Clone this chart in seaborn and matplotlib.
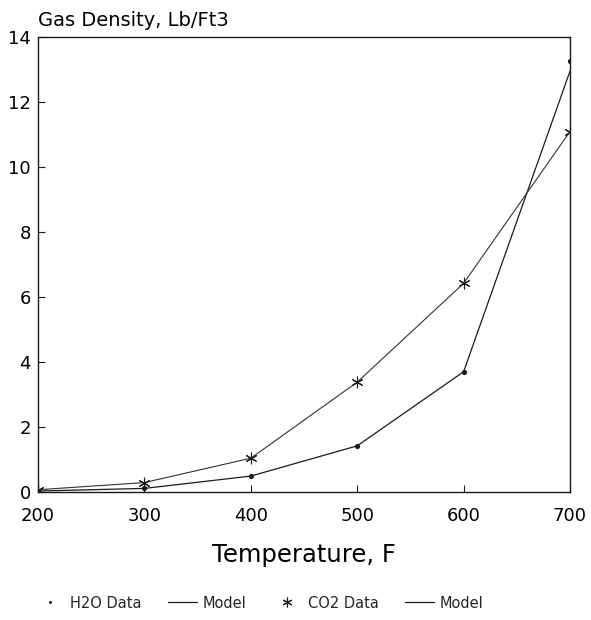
import matplotlib
matplotlib.use("Agg")
import matplotlib.pyplot as plt
from matplotlib.lines import Line2D
import seaborn as sns
import pandas as pd

# Temperatures (F) and gas densities (lb/ft3)
temperature = [200, 300, 400, 500, 600, 700]
h2o_data = [0.03, 0.11, 0.49, 1.42, 3.70, 13.27]
h2o_model = [0.03, 0.11, 0.49, 1.42, 3.70, 12.95]
co2_data = [0.07, 0.29, 1.04, 3.38, 6.42, 11.09]
co2_model = [0.07, 0.29, 1.04, 3.38, 6.42, 11.09]

x_ticks = [200, 300, 400, 500, 600, 700]
y_ticks = [0, 2, 4, 6, 8, 10, 12, 14]

sns.set_theme(style="ticks")
plt.rcParams["font.family"] = ["DejaVu Sans"]

df = pd.DataFrame({
    "temperature": temperature,
    "h2o_data": h2o_data,
    "h2o_model": h2o_model,
    "co2_data": co2_data,
    "co2_model": co2_model,
})

fig = plt.figure(figsize=(5.91, 6.20), dpi=100)
ax = fig.add_axes([38 / 591, 1 - 492 / 620, 532 / 591, 455 / 620])

ink = "#1a1a1a"
sns.lineplot(data=df, x="temperature", y="h2o_model", ax=ax, color=ink, lw=0.9)
sns.lineplot(data=df, x="temperature", y="co2_model", ax=ax, color="#333333", lw=0.8)
sns.scatterplot(data=df, x="temperature", y="h2o_data", ax=ax, color=ink,
                marker="o", s=14, edgecolor=ink, linewidth=0, zorder=3)
sns.scatterplot(data=df, x="temperature", y="co2_data", ax=ax, color=ink,
                marker=(6, 2, 0), s=60, linewidth=0.8, zorder=3)

ax.set_xlim(200, 700)
ax.set_ylim(0, 14)
ax.set_xticks(x_ticks)
ax.set_yticks(y_ticks)
ax.tick_params(direction="in", length=5, width=0.8, colors=ink,
               labelsize=13, labelcolor="black")
ax.tick_params(axis="x", pad=11)
ax.tick_params(axis="y", pad=5)
for sp in ax.spines.values():
    sp.set_color(ink)
    sp.set_linewidth(1.0)

ax.set_xlabel("Temperature, F", fontsize=17.5, labelpad=13, color="black")
ax.set_ylabel("")
fig.text(38 / 591, 1 - 21 / 620, "Gas Density, Lb/Ft3", fontsize=14,
         ha="left", va="center", color="black")

handles = [
    Line2D([], [], color=ink, marker="o", markersize=1.2, linestyle="none"),
    Line2D([], [], color=ink, lw=0.9),
    Line2D([], [], color=ink, marker=(6, 2, 0), markersize=7, mew=0.8,
           linestyle="none"),
    Line2D([], [], color=ink, lw=0.9),
]
labels = ["H2O Data", "Model", "CO2 Data", "Model"]
fig.legend(handles, labels, loc="center left",
           bbox_to_anchor=(35 / 591, 1 - 603 / 620),
           ncol=4, frameon=False, fontsize=10.5, handlelength=2.0,
           handletextpad=0.4, columnspacing=1.8, borderpad=0,
           borderaxespad=0)

fig.savefig("out.png", dpi=100)
